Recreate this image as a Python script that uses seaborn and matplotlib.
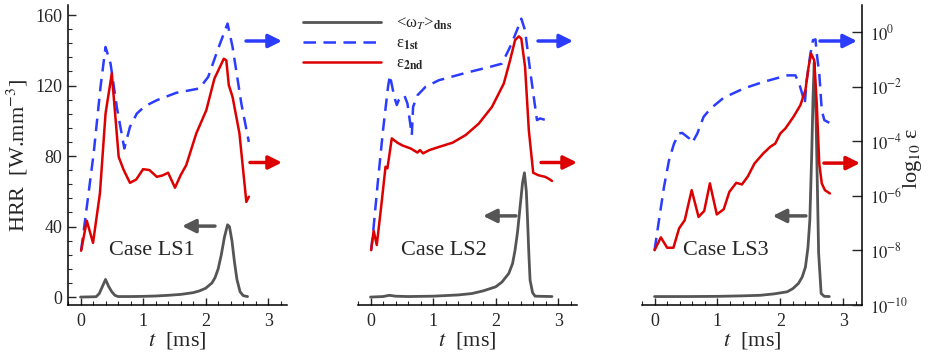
import numpy as np
import pandas as pd
import matplotlib
matplotlib.use("Agg")
import matplotlib.pyplot as plt
from matplotlib.lines import Line2D
from matplotlib.ticker import AutoMinorLocator, FixedLocator, FuncFormatter
import seaborn as sns

# ---------------- data ----------------
cases = ["Case LS1", "Case LS2", "Case LS3"]

# LS1
t_hrr_1 = [0.0, 0.25, 0.30, 0.35, 0.40, 0.45, 0.50, 0.55, 0.60, 0.80, 1.00, 1.20, 1.40, 1.60, 1.80,
           1.90, 2.00, 2.10, 2.15, 2.20, 2.25, 2.30, 2.35, 2.38, 2.42, 2.46, 2.50, 2.55, 2.60, 2.67]
hrr_1 = [0.0, 0.2, 2.0, 6.0, 10.0, 6.0, 3.0, 1.0, 0.3, 0.3, 0.4, 0.6, 1.0, 1.5, 2.5,
         3.5, 5.0, 8.0, 11.0, 16.0, 24.0, 34.0, 41.0, 40.0, 32.0, 20.0, 10.0, 3.0, 0.8, 0.3]
t_e1_1 = [0.01, 0.08, 0.21, 0.32, 0.40, 0.48, 0.58, 0.70, 0.79, 0.90, 1.03, 1.22, 1.53, 1.90,
          2.04, 2.20, 2.35, 2.43, 2.57, 2.69]
e1_1 = [-7.99, -6.77, -4.44, -2.00, -0.54, -1.15, -2.74, -4.26, -3.47, -2.98, -2.71, -2.49, -2.22,
        -2.06, -1.64, -0.60, 0.32, -0.54, -2.61, -4.02]
t_e2_1 = [0.01, 0.10, 0.20, 0.31, 0.40, 0.50, 0.61, 0.69, 0.79, 0.89, 1.00, 1.10, 1.22, 1.31, 1.40,
          1.51, 1.60, 1.69, 1.85, 2.01, 2.14, 2.29, 2.33, 2.37, 2.43, 2.54, 2.65, 2.69]
e2_1 = [-8.01, -6.91, -7.72, -5.91, -2.98, -1.51, -4.57, -5.05, -5.52, -5.40, -5.02, -5.05, -5.30,
        -5.25, -5.15, -5.70, -5.24, -4.87, -3.71, -2.86, -1.70, -0.97, -1.03, -1.94, -2.37, -3.71,
        -6.22, -6.03]

# LS2
t_hrr_2 = [0.0, 0.20, 0.30, 0.40, 0.60, 1.00, 1.40, 1.62, 1.80, 2.00, 2.10, 2.21, 2.27, 2.31, 2.35,
           2.39, 2.43, 2.46, 2.49, 2.51, 2.53, 2.55, 2.59, 2.63, 2.90]
hrr_2 = [0.0, 0.3, 1.0, 0.5, 0.3, 0.5, 1.2, 2.0, 3.5, 5.8, 8.5, 13.4, 19.0, 26.6, 37.0,
         51.0, 65.0, 70.5, 60.0, 43.7, 25.0, 9.6, 2.5, 0.5, 0.3]
t_e1_2 = [0.01, 0.04, 0.12, 0.20, 0.28, 0.31, 0.38, 0.42, 0.45, 0.54, 0.59, 0.66, 0.68, 0.75, 0.88,
          1.09, 1.52, 1.94, 2.10, 2.23, 2.34, 2.41, 2.47, 2.55, 2.66, 2.71, 2.90]
e1_2 = [-7.99, -7.37, -5.42, -3.59, -2.00, -1.58, -2.37, -2.67, -2.49, -2.31, -2.61, -3.77, -2.74,
        -2.31, -2.00, -1.76, -1.49, -1.25, -1.15, -0.54, 0.07, 0.50, 0.07, -1.39, -3.22, -3.16, -3.28]
t_e2_2 = [0.01, 0.05, 0.10, 0.17, 0.24, 0.27, 0.34, 0.43, 0.51, 0.64, 0.75, 0.79, 0.84, 0.94, 1.10,
          1.31, 1.52, 1.73, 1.94, 2.13, 2.23, 2.31, 2.37, 2.41, 2.47, 2.53, 2.60, 2.68, 2.79, 2.84, 2.90]
e2_2 = [-7.99, -7.28, -7.80, -6.40, -4.93, -4.99, -3.89, -4.05, -4.15, -4.26, -4.41, -4.32, -4.44,
        -4.32, -4.20, -4.05, -3.77, -3.35, -2.74, -1.88, -1.03, -0.29, -0.15, -0.23, -1.27, -3.59,
        -5.15, -5.24, -5.30, -5.36, -5.45]

# LS3
t_hrr_3 = [0.0, 0.50, 1.00, 1.40, 1.68, 1.90, 2.11, 2.20, 2.29, 2.35, 2.40, 2.44, 2.47, 2.50, 2.52,
           2.54, 2.57, 2.61, 2.65, 2.70, 2.78]
hrr_3 = [0.3, 0.3, 0.4, 0.7, 1.0, 1.8, 3.0, 4.8, 7.8, 11.5, 17.0, 28.0, 43.7, 81.0, 112.0,
         133.0, 100.0, 25.0, 2.0, 0.4, 0.3]
t_e1_3 = [0.00, 0.07, 0.15, 0.23, 0.31, 0.39, 0.44, 0.55, 0.60, 0.68, 0.78, 0.89, 1.10, 1.42, 1.73,
          2.11, 2.24, 2.30, 2.34, 2.39, 2.42, 2.48, 2.52, 2.56, 2.58, 2.62, 2.66, 2.70, 2.78]
e1_3 = [-7.99, -6.89, -5.67, -4.69, -4.08, -3.71, -3.69, -3.89, -4.05, -3.71, -3.10, -2.80, -2.40,
        -2.06, -1.82, -1.58, -1.58, -1.88, -2.19, -2.61, -1.76, -0.78, -0.29, -0.26, -0.78, -1.51,
        -2.86, -3.22, -3.32]
t_e2_3 = [0.00, 0.10, 0.20, 0.30, 0.39, 0.48, 0.59, 0.70, 0.79, 0.88, 0.99, 1.10, 1.19, 1.30, 1.39,
          1.48, 1.59, 1.73, 1.84, 1.92, 2.00, 2.08, 2.21, 2.32, 2.40, 2.45, 2.49, 2.54, 2.58, 2.62,
          2.66, 2.71, 2.79]
e2_3 = [-7.99, -7.52, -7.90, -7.90, -7.19, -6.89, -5.79, -6.77, -6.55, -5.54, -6.68, -6.49, -5.85,
        -5.52, -5.58, -5.30, -4.81, -4.44, -4.20, -4.08, -3.71, -3.53, -3.10, -2.67, -2.12, -1.27,
        -0.78, -1.03, -2.61, -4.81, -5.54, -5.79, -5.91]

x_ticks = [0, 1, 2, 3]
hrr_ticks = [0, 40, 80, 120, 160]
eps_ticks = [-10, -8, -6, -4, -2, 0]

legend_labels = [r"<ω$_T$>$_{\mathbf{dns}}$", r"ε$_{\mathbf{1st}}$", r"ε$_{\mathbf{2nd}}$"]

# ---------------- style ----------------
sns.set_style("ticks")
plt.rcParams["font.family"] = ["Liberation Serif", "DejaVu Serif"]
plt.rcParams["mathtext.fontset"] = "stix"

GRAY = "#555555"
BLUE = "#2b3cff"
RED = "#dd0000"

fig = plt.figure(figsize=(9.3, 3.59), dpi=100)
W, H = 930.0, 359.0
panels = [(68, 219), (358, 219), (642, 220)]
bot, top = 305, 5

series = [
    (t_hrr_1, hrr_1, t_e1_1, e1_1, t_e2_1, e2_1),
    (t_hrr_2, hrr_2, t_e1_2, e1_2, t_e2_2, e2_2),
    (t_hrr_3, hrr_3, t_e1_3, e1_3, t_e2_3, e2_3),
]
arrows = [
    dict(g=(0.671, 0.521, 0.263), b=(0.813, 0.977, 0.88), r=(0.831, 0.977, 0.475)),
    dict(g=(0.721, 0.571, 0.297), b=(0.822, 0.982, 0.88), r=(0.836, 1.0, 0.475)),
    dict(g=(0.745, 0.594, 0.297), b=(0.809, 0.977, 0.88), r=(0.827, 0.991, 0.473)),
]
text_x = [0.384, 0.393, 0.382]

for i, ((left, width), (th, hv, t1, v1, t2, v2)) in enumerate(zip(panels, series)):
    ax = fig.add_axes([left / W, 1 - bot / H, width / W, (bot - top) / H])
    ax2 = ax.twinx()
    ax.set_facecolor("none")

    sns.lineplot(x=th, y=hv, ax=ax, color=GRAY, lw=2.0, estimator=None, sort=False)
    sns.lineplot(x=t1, y=v1, ax=ax2, color=BLUE, lw=1.8, estimator=None, sort=False,
                 linestyle=(0, (5, 3)))
    sns.lineplot(x=t2, y=v2, ax=ax2, color=RED, lw=1.8, estimator=None, sort=False)

    ax.set_xlim(-0.2, 3.3)
    ax.set_ylim(-4.5, 165.7)
    ax2.set_ylim(-10, 1)

    for a in (ax, ax2):
        for s in a.spines.values():
            s.set_visible(False)
            s.set_linewidth(1.1)
            s.set_color("black")
        a.set_xlabel("")
        a.set_ylabel("")

    ax.spines["bottom"].set_visible(True)
    ax.xaxis.set_major_locator(FixedLocator(x_ticks))
    ax.xaxis.set_minor_locator(AutoMinorLocator(5))
    ax.tick_params(axis="x", which="major", direction="in", length=5, width=1, labelsize=13, pad=6)
    ax.tick_params(axis="x", which="minor", direction="in", length=3, width=0.8)
    ax.set_xlabel(r"$t$  [ms]", fontsize=16, labelpad=0)

    if i == 0:
        ax.spines["left"].set_visible(True)
        ax.yaxis.set_major_locator(FixedLocator(hrr_ticks))
        ax.yaxis.set_minor_locator(AutoMinorLocator(5))
        ax.tick_params(axis="y", which="major", direction="in", length=6, width=1, labelsize=13, pad=4)
        ax.tick_params(axis="y", which="minor", direction="in", length=3, width=0.8)
        ax.set_ylabel(r"HRR  [W.mm$^{-3}$]", fontsize=16, labelpad=4)
    else:
        ax.tick_params(axis="y", which="both", left=False, labelleft=False)

    if i == 2:
        ax2.spines["right"].set_visible(True)
        ax2.yaxis.set_major_locator(FixedLocator(eps_ticks))
        ax2.yaxis.set_major_formatter(FuncFormatter(lambda v, p: r"$10^{%d}$" % int(round(v))))
        ax2.tick_params(axis="y", which="major", direction="in", length=7, width=1, labelsize=12, pad=6)
    else:
        ax2.tick_params(axis="y", which="both", right=False, labelright=False)
    ax2.tick_params(axis="y", which="both", left=False, labelleft=False)

    ax.text(text_x[i], 0.183, cases[i], transform=ax.transAxes, fontsize=16,
            ha="center", va="center")

    for key, col in (("g", GRAY), ("b", BLUE), ("r", RED)):
        x0, x1, yy = arrows[i][key]
        ax2.annotate("", xy=(x1, yy), xytext=(x0, yy), xycoords="axes fraction",
                     textcoords="axes fraction",
                     arrowprops=dict(arrowstyle="-|>", color=col, lw=2.5, mutation_scale=20,
                                     shrinkA=0, shrinkB=0), annotation_clip=False)

fig.text(912 / W, 1 - 158 / H, r"log$_{10}$ ε", fontsize=16, rotation=90,
         ha="center", va="center")

handles = [Line2D([], [], color=GRAY, lw=2.0),
           Line2D([], [], color=BLUE, lw=1.8, linestyle=(0, (5, 3))),
           Line2D([], [], color=RED, lw=1.8)]
fig.legend(handles, legend_labels, loc="upper left", bbox_to_anchor=(303 / W, 1 - 16 / H),
           frameon=False, fontsize=12, handlelength=4.7, handletextpad=0.9,
           labelspacing=0.2, borderpad=0, borderaxespad=0)

fig.savefig("out.png", dpi=100)
